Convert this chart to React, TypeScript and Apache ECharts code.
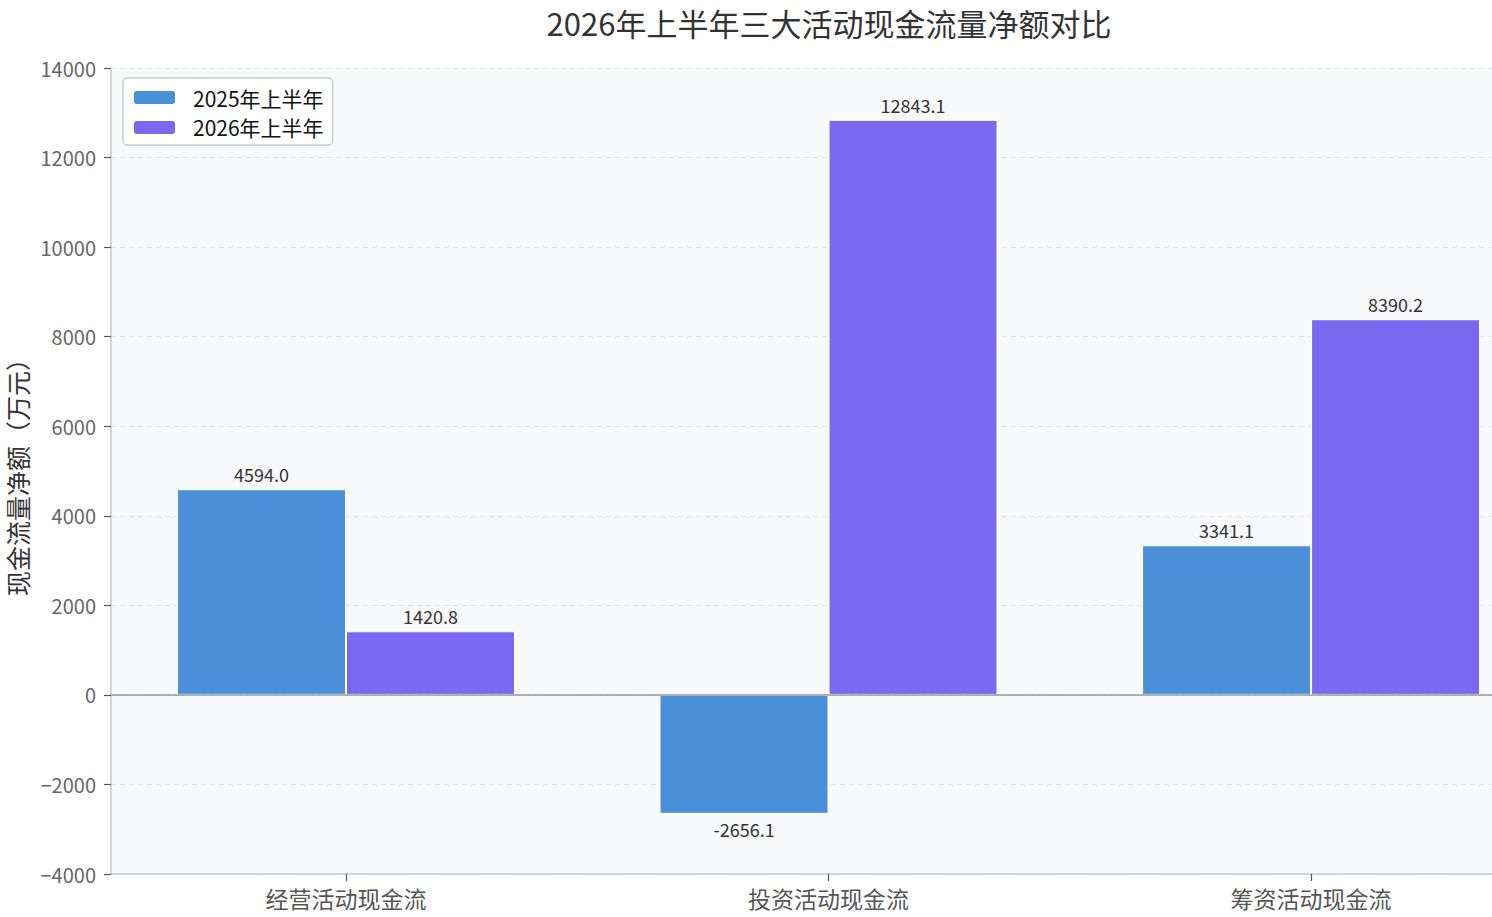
import React, { useEffect, useRef } from "react";
import * as echarts from "echarts";

const categories = ["经营活动现金流", "投资活动现金流", "筹资活动现金流"];
const seriesNames = ["2025年上半年", "2026年上半年"];
const values2025 = [4594.0, -2656.1, 3341.1];
const values2026 = [1420.8, 12843.1, 8390.2];
const yTicks = { min: -4000, max: 14000, interval: 2000 };
const titleText = "2026年上半年三大活动现金流量净额对比";
const yName = "现金流量净额（万元）";

const FONT = '"Noto Sans CJK SC", "Noto Sans", sans-serif';

function makeData(vals: number[]) {
  return vals.map((v, i) => ({
    value: [i, v],
    label: { position: v < 0 ? "bottom" : "top" },
  }));
}

export default function App() {
  const ref = useRef<HTMLDivElement>(null);
  useEffect(() => {
    if (!ref.current) return;
    const chart = echarts.init(ref.current, undefined, { renderer: "svg" });
    const labelCfg = {
      show: true,
      distance: 6,
      fontSize: 18,
      color: "#333",
      fontFamily: FONT,
      formatter: (p: any) => Number(p.value[1]).toFixed(1),
    };
    chart.setOption({
      animation: false,
      backgroundColor: "#ffffff",
      textStyle: { fontFamily: FONT },
      graphic: [
        {
          type: "text",
          x: 829,
          y: 7,
          style: {
            text: titleText,
            font: `31px ${FONT}`,
            fill: "#333",
            align: "center",
            verticalAlign: "top",
          },
        },
      ],
      legend: {
        orient: "vertical",
        left: 123,
        top: 78,
        padding: [9, 9, 7, 9],
        itemWidth: 43,
        itemHeight: 15,
        itemGap: 9,
        backgroundColor: "#ffffff",
        borderColor: "#cccccc",
        borderWidth: 1.5,
        borderRadius: 4,
        textStyle: { fontSize: 21, color: "#111", fontFamily: FONT, padding: [0, 0, 0, 12] },
        data: seriesNames,
      },
      grid: {
        left: 111,
        right: 0,
        top: 68,
        bottom: 43,
        outerBoundsMode: "none",
        containLabel: false,
        show: true,
        backgroundColor: "#f8f9fb",
        borderWidth: 0,
      },
      xAxis: {
        type: "value",
        min: -0.487,
        max: 2.375,
        splitLine: { show: false },
        axisLine: { show: true, onZero: false, lineStyle: { color: "#c8c8c8", width: 1.5 } },
        axisTick: {
          show: true,
          customValues: [0, 1, 2],
          length: 7,
          lineStyle: { color: "#555", width: 1.2 },
        },
        axisLabel: {
          customValues: [0, 1, 2],
          formatter: (v: number) => categories[Math.round(v)] ?? "",
          fontSize: 23,
          color: "#555",
          margin: 12,
          fontFamily: FONT,
        },
      },
      yAxis: {
        type: "value",
        min: yTicks.min,
        max: yTicks.max,
        interval: yTicks.interval,
        name: yName,
        nameLocation: "middle",
        nameGap: 72,
        nameTextStyle: { fontSize: 25, color: "#333", fontFamily: FONT },
        axisLine: { show: true, onZero: false, lineStyle: { color: "#c8c8c8", width: 1.5 } },
        axisTick: { show: true, length: 7, lineStyle: { color: "#555", width: 1.2 } },
        axisLabel: {
          fontSize: 20,
          color: "#666",
          margin: 15,
          fontFamily: FONT,
          formatter: (v: number) => (v < 0 ? "\u2212" + Math.abs(v) : String(v)),
        },
        splitLine: {
          show: true,
          lineStyle: { color: "#e6e6e6", type: [5, 4], width: 1 },
        },
      },
      series: [
        {
          name: seriesNames[0],
          type: "bar",
          barWidth: 169,
          barGap: "0%",
          itemStyle: { color: "#4a90d9", borderColor: "#ffffff", borderWidth: 1 },
          label: labelCfg,
          data: makeData(values2025),
          markLine: {
            silent: true,
            symbol: "none",
            label: { show: false },
            lineStyle: { color: "#999999", type: "solid", width: 1.5 },
            data: [{ yAxis: 0 }],
          },
        },
        {
          name: seriesNames[1],
          type: "bar",
          barWidth: 169,
          barGap: "0%",
          itemStyle: { color: "#7b68ee", borderColor: "#ffffff", borderWidth: 1 },
          label: labelCfg,
          data: makeData(values2026),
        },
      ],
    });
    return () => chart.dispose();
  }, []);
  return (
    <div
      ref={ref}
      style={{ position: "fixed", left: 0, top: 0, width: 1492, height: 917 }}
    />
  );
}
